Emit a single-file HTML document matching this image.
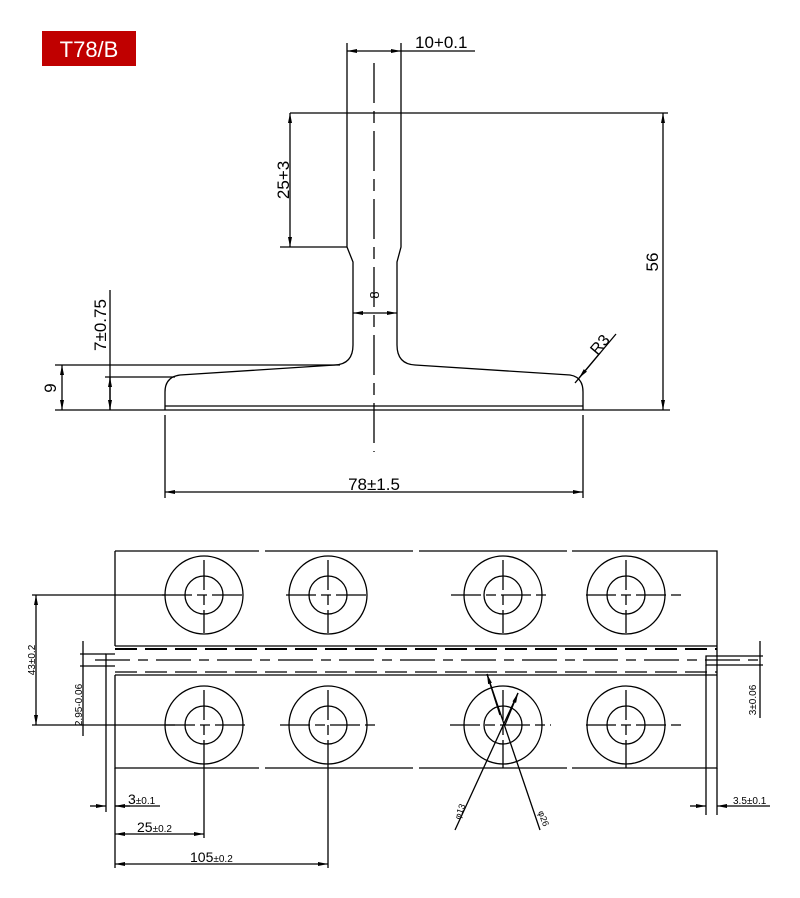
<!DOCTYPE html>
<html><head><style>body{margin:0;background:#fff}svg{display:block}text{font-family:"Liberation Sans",sans-serif;fill:#000}</style></head>
<body>
<svg width="800" height="898" viewBox="0 0 800 898" xmlns="http://www.w3.org/2000/svg">
<defs>
<marker id="a" viewBox="0 0 10 4" refX="10" refY="2" markerWidth="10" markerHeight="4" orient="auto-start-reverse" markerUnits="userSpaceOnUse"><path d="M0,0L10,2L0,4z" fill="#000"/></marker>
</defs>
<rect x="42" y="31" width="94" height="35" fill="#c00000"/>
<text x="89" y="57" font-size="22" text-anchor="middle" style="fill:#fff">T78/B</text>
<g stroke="#000" stroke-width="1.3" fill="none">
<!-- top profile -->
<path d="M347,113 V247 L353,262 V345 Q353,364 335,365 L180,375 Q165,377 165,392 V410 M401,113 V247 L397,262 V345 Q397,364 415,365 L570,375 Q583,377 583,392 V410"/>
<line x1="165" y1="406" x2="583" y2="406"/>
<line x1="55" y1="410" x2="670" y2="410"/>
<line x1="290" y1="113" x2="668" y2="113"/>
<line x1="55" y1="365" x2="340" y2="365"/>
<line x1="105" y1="377" x2="175" y2="377"/>
<line x1="280" y1="247" x2="347" y2="247"/>
<line x1="347" y1="43" x2="347" y2="113"/><line x1="401" y1="43" x2="401" y2="113"/>
<line x1="347" y1="51" x2="401" y2="51" marker-start="url(#a)" marker-end="url(#a)"/>
<line x1="401" y1="51" x2="475" y2="51"/>
<line x1="374" y1="63" x2="374" y2="452" stroke-dasharray="40,8,12,8"/>
<line x1="663" y1="113" x2="663" y2="410" marker-start="url(#a)" marker-end="url(#a)"/>
<line x1="290" y1="113" x2="290" y2="247" marker-start="url(#a)" marker-end="url(#a)"/>
<line x1="353" y1="313" x2="397" y2="313" marker-start="url(#a)" marker-end="url(#a)"/>
<line x1="110" y1="290" x2="110" y2="410"/>
<line x1="110" y1="377" x2="110" y2="410" marker-start="url(#a)" marker-end="url(#a)"/>
<line x1="62" y1="365" x2="62" y2="410" marker-start="url(#a)" marker-end="url(#a)"/>
<line x1="165" y1="415" x2="165" y2="498"/><line x1="583" y1="415" x2="583" y2="498"/>
<line x1="165" y1="492" x2="583" y2="492" marker-start="url(#a)" marker-end="url(#a)"/>
<line x1="616" y1="334" x2="575" y2="383"/>
<line x1="600" y1="353" x2="579" y2="378" marker-end="url(#a)"/>
</g>
<text x="415" y="48" font-size="17">10+0.1</text>
<text x="374" y="490" font-size="17" text-anchor="middle">78±1.5</text>
<text transform="translate(289,180) rotate(-90)" font-size="17" text-anchor="middle">25+3</text>
<text transform="translate(658,262) rotate(-90)" font-size="17" text-anchor="middle">56</text>
<text transform="translate(106,325) rotate(-90)" font-size="17" text-anchor="middle">7±0.75</text>
<text transform="translate(56,388) rotate(-90)" font-size="17" text-anchor="middle">9</text>
<text transform="translate(379,295) rotate(-90)" font-size="13" text-anchor="middle">8</text>
<text transform="translate(604,348) rotate(-50)" font-size="16" text-anchor="middle">R3</text>

<!-- bottom view -->
<g stroke="#000" stroke-width="1.3" fill="none">
<path d="M115,551 H259 M265,551 H413 M419,551 H567 M572,551 H717 V768 H572 M567,768 H419 M413,768 H265 M259,768 H115 V675 M115,646 V551"/>
<line x1="115" y1="646" x2="717" y2="646"/>
<line x1="115" y1="675" x2="717" y2="675"/>
<line x1="115" y1="649" x2="717" y2="649" stroke-width="2" stroke-dasharray="22,8"/>
<line x1="95" y1="660" x2="760" y2="660" stroke-dasharray="35,8,10,8"/>
<line x1="115" y1="672" x2="717" y2="672" stroke-dasharray="22,8"/>
<path d="M115,654 H106 V666 H115"/>
<path d="M717,656 H706 V665 H717"/>
<line x1="106" y1="666" x2="106" y2="812"/><line x1="115" y1="768" x2="115" y2="868"/>
<line x1="706" y1="665" x2="706" y2="815"/><line x1="717" y1="768" x2="717" y2="815"/>
<line x1="32" y1="595" x2="165" y2="595"/><line x1="32" y1="725" x2="175" y2="725"/>
<line x1="36" y1="595" x2="36" y2="725" marker-start="url(#a)" marker-end="url(#a)"/>
<line x1="83" y1="641" x2="83" y2="736"/>
<line x1="80" y1="654" x2="106" y2="654"/><line x1="80" y1="666" x2="106" y2="666"/>
<line x1="760" y1="641" x2="760" y2="718"/>
<line x1="717" y1="656" x2="763" y2="656"/><line x1="717" y1="665" x2="763" y2="665"/>
<line x1="90" y1="806" x2="106" y2="806" marker-end="url(#a)"/>
<line x1="130" y1="806" x2="115" y2="806" marker-end="url(#a)"/>
<line x1="115" y1="806" x2="160" y2="806"/>
<line x1="690" y1="806" x2="706" y2="806" marker-end="url(#a)"/>
<line x1="770" y1="806" x2="717" y2="806" marker-end="url(#a)"/>
<line x1="204" y1="768" x2="204" y2="838"/><line x1="328" y1="768" x2="328" y2="868"/>
<line x1="115" y1="834" x2="204" y2="834" marker-start="url(#a)" marker-end="url(#a)"/>
<line x1="115" y1="864" x2="328" y2="864" marker-start="url(#a)" marker-end="url(#a)"/>
<!-- circles -->
<g>
<circle cx="204" cy="595" r="39"/><circle cx="204" cy="595" r="19"/>
<circle cx="328" cy="595" r="39"/><circle cx="328" cy="595" r="19"/>
<circle cx="503" cy="595" r="39"/><circle cx="503" cy="595" r="19"/>
<circle cx="626" cy="595" r="39"/><circle cx="626" cy="595" r="19"/>
<circle cx="204" cy="725" r="39"/><circle cx="204" cy="725" r="19"/>
<circle cx="328" cy="725" r="39"/><circle cx="328" cy="725" r="19"/>
<circle cx="503" cy="725" r="39"/><circle cx="503" cy="725" r="19"/>
<circle cx="626" cy="725" r="39"/><circle cx="626" cy="725" r="19"/>
</g>
<g stroke-dasharray="30,5,10,5">
<path d="M162,595H246M204,560V633M286,595H370M328,560V633M451,595H548M503,560V633M586,595H686M626,560V633"/>
<path d="M165,725H248M204,690V768M280,725H380M328,690V768M450,725H551M503,690V768M586,725H684M626,690V768"/>
</g>
<line x1="455" y1="830" x2="518" y2="693"/>
<line x1="540" y1="830" x2="487" y2="674"/>
<line x1="505" y1="725" x2="518" y2="693" marker-end="url(#a)"/>
<line x1="500" y1="715" x2="487" y2="674" marker-end="url(#a)"/>
</g>
<g font-size="11">
<text transform="translate(35,660) rotate(-90)" text-anchor="middle" font-size="10">43±0.2</text>
<text transform="translate(82,705) rotate(-90)" text-anchor="middle" font-size="10">2.95-0.06</text>
<text transform="translate(756,700) rotate(-90)" text-anchor="middle" font-size="10">3±0.06</text>
<text x="128" y="804" font-size="14">3<tspan font-size="10">±0.1</tspan></text>
<text x="137" y="832" font-size="14">25<tspan font-size="10">±0.2</tspan></text>
<text x="190" y="862" font-size="14">105<tspan font-size="10">±0.2</tspan></text>
<text x="733" y="804" font-size="10">3.5±0.1</text>
<text transform="translate(460,820) rotate(-70)" font-size="9">φ13</text>
<text transform="translate(538,812) rotate(70)" font-size="9">φ26</text>
</g>
</svg>
</body></html>
